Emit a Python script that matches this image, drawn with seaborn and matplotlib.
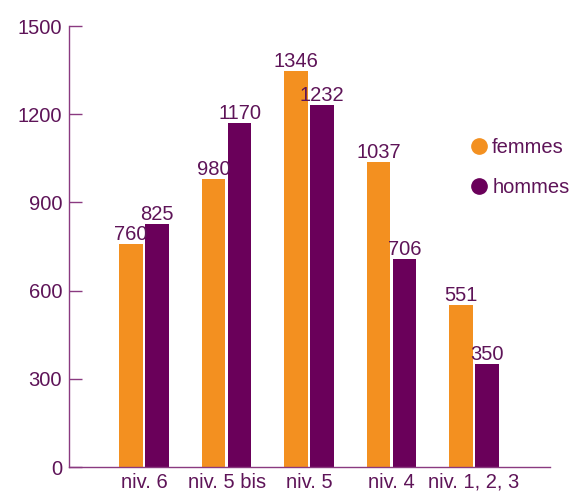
import matplotlib
matplotlib.use("Agg")
import matplotlib.pyplot as plt
import seaborn as sns
import pandas as pd
from matplotlib.lines import Line2D

categories = ["niv. 6", "niv. 5 bis", "niv. 5", "niv. 4", "niv. 1, 2, 3"]
femmes = [760, 980, 1346, 1037, 551]
hommes = [825, 1170, 1232, 706, 350]
series = ["femmes", "hommes"]
yticks = [0, 300, 600, 900, 1200, 1500]

df = pd.DataFrame({
    "cat": categories * 2,
    "sexe": ["femmes"] * len(categories) + ["hommes"] * len(categories),
    "val": femmes + hommes,
})

sns.set_style("white")
plt.rcParams["font.family"] = ["Liberation Sans", "DejaVu Sans"]

ORANGE = "#F39020"
PURPLE = "#6A005A"
TXT = "#5E1458"
AX = "#8A3A80"
FS = 14.5

fig = plt.figure(figsize=(5.77, 4.94), dpi=100)
ax = fig.add_axes([69/577, 27/494, (550-69)/577, (467-26)/494])
sns.barplot(data=df, x="cat", y="val", hue="sexe", order=categories, hue_order=series,
            palette=[ORANGE, PURPLE], width=0.63, gap=0.1, ax=ax, legend=False,
            saturation=1, edgecolor="none")

for cont in ax.containers:
    ax.bar_label(cont, fmt="%d", color=TXT, fontsize=FS, padding=0)

ax.set_xlim(-0.91, 4.92)
ax.set_ylim(0, 1500)
ax.set_yticks(yticks)
ax.set_yticklabels([str(t) for t in yticks], color=TXT, fontsize=FS)
ax.tick_params(axis="y", left=True, direction="in", length=9, color=AX, width=1, pad=5)
ax.tick_params(axis="x", length=0, labelsize=FS, labelcolor=TXT, pad=4)
ax.set_xlabel("")
ax.set_ylabel("")
for s in ["top", "right"]:
    ax.spines[s].set_visible(False)
for s in ["left", "bottom"]:
    ax.spines[s].set_color(AX)
    ax.spines[s].set_linewidth(1)

handles = [Line2D([], [], marker="o", linestyle="none", markersize=11,
                  markerfacecolor=c, markeredgecolor=c) for c in [ORANGE, PURPLE]]
leg = fig.legend(handles, series, loc="upper left", bbox_to_anchor=(457/577, 1 - 128/494),
                 frameon=False, fontsize=FS, handletextpad=0.05, labelspacing=1.05,
                 handlelength=1.2, labelcolor=TXT, borderpad=0)

fig.savefig("out.png", dpi=100)
